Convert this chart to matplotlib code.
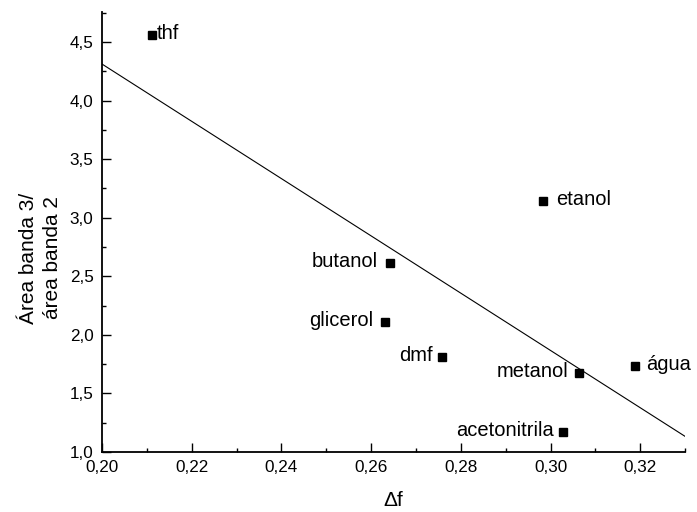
import numpy as np
import matplotlib
matplotlib.use('Agg')
from matplotlib import pyplot as plt
from matplotlib.ticker import MultipleLocator, FuncFormatter

plt.rcParams['font.family'] = ['Liberation Sans', 'DejaVu Sans']

# dados
solventes = ['thf', 'butanol', 'glicerol', 'dmf', 'etanol', 'acetonitrila', 'metanol', 'água']
delta_f = [0.2112, 0.2642, 0.2632, 0.2759, 0.2984, 0.3028, 0.3064, 0.3189]
razao_area = [4.56, 2.614, 2.113, 1.814, 3.14, 1.17, 1.675, 1.734]
# deslocamento do rótulo em pontos (negativo = à esquerda)
desloc = [3.6, -8.5, -8.5, -7, 9.5, -7, -8, 7.5]

fig = plt.figure(figsize=(6.97, 5.12), dpi=100)
ax = fig.add_axes([0.1463, 0.1172, 0.8367, 0.8594])

ax.plot(delta_f, razao_area, 's', color='black', markersize=6.3, linestyle='none')

# ajuste linear
a, b = np.polyfit(delta_f, razao_area, 1)
xl = np.array([0.20, 0.33])
ax.plot(xl, a * xl + b, color='black', linewidth=0.8)

for nome, x, y, d in zip(solventes, delta_f, razao_area, desloc):
    ax.annotate(nome, (x, y), xytext=(d, 1.0), textcoords='offset points',
                ha='left' if d > 0 else 'right', va='center', fontsize=14.5)

ax.set_xlim(0.20, 0.33)
ax.set_ylim(1.0, 4.756)
ax.xaxis.set_major_locator(MultipleLocator(0.02))
ax.xaxis.set_minor_locator(MultipleLocator(0.01))
ax.yaxis.set_major_locator(MultipleLocator(0.5))
ax.yaxis.set_minor_locator(MultipleLocator(0.25))
ax.xaxis.set_major_formatter(FuncFormatter(lambda v, p: ('%.2f' % v).replace('.', ',')))
ax.yaxis.set_major_formatter(FuncFormatter(lambda v, p: ('%.1f' % v).replace('.', ',')))
ax.tick_params(which='major', direction='in', length=6.5, width=1.0, labelsize=12.3)
ax.tick_params(which='minor', direction='in', length=3.2, width=1.0)
ax.tick_params(axis='x', pad=6)
ax.tick_params(axis='y', pad=6)

ax.spines['top'].set_visible(False)
ax.spines['right'].set_visible(False)
ax.spines['left'].set_linewidth(1.3)
ax.spines['bottom'].set_linewidth(1.3)

ax.set_xlabel('Δf', fontsize=15)
ax.xaxis.set_label_coords(0.5, -0.088)
ax.xaxis.label.set_va('top')
ax.set_ylabel('Área banda 3/\nárea banda 2', fontsize=15, linespacing=1.3)
ax.yaxis.set_label_coords(-0.069, 0.441)

fig.savefig('out.png', dpi=100)
